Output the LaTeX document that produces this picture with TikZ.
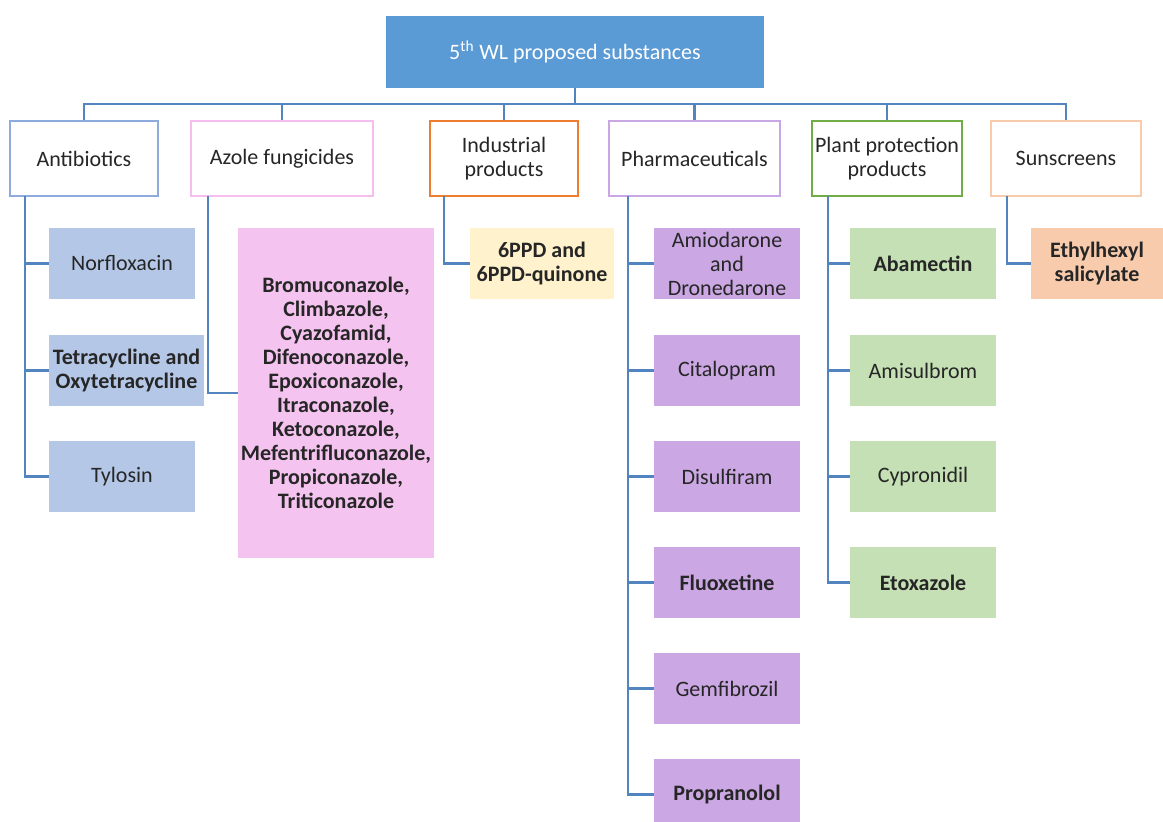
\documentclass[tikz,border=0pt]{standalone}
\usepackage{fontspec}
\setmainfont{Carlito}
\usepackage{xcolor}
\usepackage{tikz}

\definecolor{titleblue}{RGB}{91,155,213}
\definecolor{linkblue}{RGB}{82,132,192}
\definecolor{textgray}{RGB}{38,38,38}
\definecolor{antiline}{RGB}{143,170,220}
\definecolor{antifill}{RGB}{180,199,231}
\definecolor{azoleline}{RGB}{246,190,238}
\definecolor{azolefill}{RGB}{245,195,239}
\definecolor{indline}{RGB}{237,125,49}
\definecolor{indfill}{RGB}{255,242,204}
\definecolor{pharmaline}{RGB}{201,166,228}
\definecolor{pharmafill}{RGB}{203,167,227}
\definecolor{plantline}{RGB}{112,173,71}
\definecolor{plantfill}{RGB}{197,224,180}
\definecolor{sunline}{RGB}{248,203,173}
\definecolor{sunfill}{RGB}{248,203,173}

\begin{document}
\begin{tikzpicture}[x=0.75pt, y=-0.75pt,
        every node/.style={font=\fontsize{16.5}{18}\selectfont, text=textgray, align=center, inner sep=0pt},
        group/.style={draw=#1, line width=1.5pt, fill=white, minimum height=56.25pt},
        item/.style={fill=#1, minimum height=53.25pt},
        link/.style={draw=linkblue, line width=1.6pt}]
        \clip (0,0) rectangle (1163,821);

        \node[fill=titleblue, text=white, minimum width=283.5pt, minimum height=54pt] (Title) at (575,52) {5\textsuperscript{th} WL proposed substances};

        \node[group=antiline, minimum width=111pt] (Antibiotics) at (84,158.5) {Antibiotics};
        \node[group=azoleline, minimum width=136.5pt] (Azole-fungicides) at (282,158.5) {Azole fungicides};
        \node[group=indline, minimum width=111pt] (Industrial-products) at (504,158.5) {Industrial\\products};
        \node[group=pharmaline, minimum width=128.25pt] (Pharmaceuticals) at (694.5,158.5) {Pharmaceuticals};
        \node[group=plantline, minimum width=112.5pt] (Plant-protection) at (887,158.5) {Plant protection\\products};
        \node[group=sunline, minimum width=112.5pt] (Sunscreens) at (1066,158.5) {Sunscreens};

        \node[item=antifill, minimum width=109.5pt] (Norfloxacin) at (122,263.5) {Norfloxacin};
        \node[item=antifill, minimum width=116.25pt, font=\fontsize{16.5}{18}\selectfont\bfseries] (Tetracycline) at (126.5,370.5) {Tetracycline and\\Oxytetracycline};
        \node[item=antifill, minimum width=109.5pt] (Tylosin) at (122,476.5) {Tylosin};

        \node[item=azolefill, minimum width=147pt, minimum height=247.5pt, font=\fontsize{16.5}{18}\selectfont\bfseries] (Azoles) at (336,393) {Bromuconazole,\\Climbazole,\\Cyazofamid,\\Difenoconazole,\\Epoxiconazole,\\Itraconazole,\\Ketoconazole,\\Mefentrifluconazole,\\Propiconazole,\\Triticonazole};

        \node[item=indfill, minimum width=108pt, font=\fontsize{16.5}{18}\selectfont\bfseries] (6PPD) at (542,263.5) {6PPD and\\6PPD-quinone};

        \node[item=pharmafill, minimum width=109.5pt] (Amiodarone) at (727,263.5) {Amiodarone\\and\\Dronedarone};
        \node[item=pharmafill, minimum width=109.5pt] (Citalopram) at (727,370.5) {Citalopram};
        \node[item=pharmafill, minimum width=109.5pt] (Disulfiram) at (727,476.5) {Disulfiram};
        \node[item=pharmafill, minimum width=109.5pt, font=\fontsize{16.5}{18}\selectfont\bfseries] (Fluoxetine) at (727,582.5) {Fluoxetine};
        \node[item=pharmafill, minimum width=109.5pt] (Gemfibrozil) at (727,688.5) {Gemfibrozil};
        \node[item=pharmafill, minimum width=109.5pt, font=\fontsize{16.5}{18}\selectfont\bfseries] (Propranolol) at (727,794.5) {Propranolol};

        \node[item=plantfill, minimum width=109.5pt, font=\fontsize{16.5}{18}\selectfont\bfseries] (Abamectin) at (923,263.5) {Abamectin};
        \node[item=plantfill, minimum width=109.5pt] (Amisulbrom) at (923,370.5) {Amisulbrom};
        \node[item=plantfill, minimum width=109.5pt] (Cypronidil) at (923,476.5) {Cypronidil};
        \node[item=plantfill, minimum width=109.5pt, font=\fontsize{16.5}{18}\selectfont\bfseries] (Etoxazole) at (923,582.5) {Etoxazole};

        \node[item=sunfill, minimum width=99pt, font=\fontsize{16.5}{18}\selectfont\bfseries] (Ethylhexyl) at (1097,263.5) {Ethylhexyl\\salicylate};

        % trunks under each group
        \coordinate (bus) at (575,104);
        \coordinate (Antibiotics-trunk) at (25,196);
        \coordinate (Azole-trunk) at (208,196);
        \coordinate (Industrial-trunk) at (444,196);
        \coordinate (Pharma-trunk) at (628,196);
        \coordinate (Plant-trunk) at (828,196);
        \coordinate (Sun-trunk) at (1007,196);

        \draw[link] (Title) -- (bus);
        \draw[link] (bus) -| (Antibiotics);
        \draw[link] (bus) -| (Azole-fungicides);
        \draw[link] (bus) -| (Industrial-products);
        \draw[link] (bus) -| (Pharmaceuticals);
        \draw[link] (bus) -| (Plant-protection);
        \draw[link] (bus) -| (Sunscreens);

        \draw[link] (Antibiotics-trunk) |- (Norfloxacin);
        \draw[link] (Antibiotics-trunk) |- (Tetracycline);
        \draw[link] (Antibiotics-trunk) |- (Tylosin);
        \draw[link] (Azole-trunk) |- (Azoles);
        \draw[link] (Industrial-trunk) |- (6PPD);
        \draw[link] (Pharma-trunk) |- (Amiodarone);
        \draw[link] (Pharma-trunk) |- (Citalopram);
        \draw[link] (Pharma-trunk) |- (Disulfiram);
        \draw[link] (Pharma-trunk) |- (Fluoxetine);
        \draw[link] (Pharma-trunk) |- (Gemfibrozil);
        \draw[link] (Pharma-trunk) |- (Propranolol);
        \draw[link] (Plant-trunk) |- (Abamectin);
        \draw[link] (Plant-trunk) |- (Amisulbrom);
        \draw[link] (Plant-trunk) |- (Cypronidil);
        \draw[link] (Plant-trunk) |- (Etoxazole);
        \draw[link] (Sun-trunk) |- (Ethylhexyl);
    \end{tikzpicture}
\end{document}
